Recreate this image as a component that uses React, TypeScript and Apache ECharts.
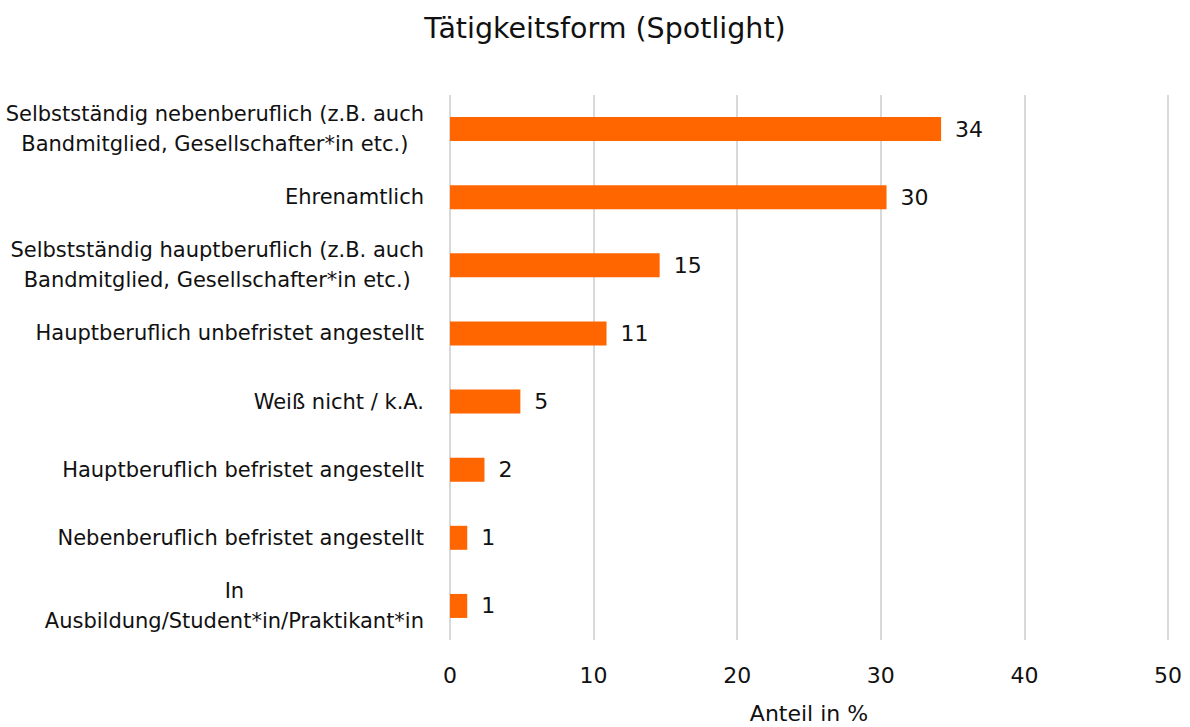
import React, { useEffect, useRef } from "react";
import * as echarts from "echarts";

const categories = [
  "Selbstständig nebenberuflich (z.B. auch\nBandmitglied, Gesellschafter*in etc.)",
  "Ehrenamtlich",
  "Selbstständig hauptberuflich (z.B. auch\nBandmitglied, Gesellschafter*in etc.)",
  "Hauptberuflich unbefristet angestellt",
  "Weiß nicht / k.A.",
  "Hauptberuflich befristet angestellt",
  "Nebenberuflich befristet angestellt",
  "In\nAusbildung/Student*in/Praktikant*in",
];
const values = [34.2, 30.4, 14.6, 10.9, 4.9, 2.4, 1.2, 1.2];
const titleText = "Tätigkeitsform (Spotlight)";
const axisName = "Anteil in %";

const FONT = "'DejaVu Sans', 'Noto Sans', sans-serif";

export default function App() {
  const ref = useRef<HTMLDivElement>(null);
  useEffect(() => {
    if (!ref.current) return;
    const chart = echarts.init(ref.current, null, { renderer: "svg" });
    chart.setOption({
      animation: false,
      backgroundColor: "#ffffff",
      textStyle: { fontFamily: FONT },
      title: {
        text: titleText,
        left: 600,
        textAlign: "center",
        top: 9,
        textStyle: { fontFamily: FONT, fontSize: 28.5, fontWeight: "normal", color: "#111" },
      },
      grid: {
        left: 450,
        right: 22,
        top: 95,
        bottom: 87,
        containLabel: false,
        outerBoundsMode: "none",
      },
      xAxis: {
        type: "value",
        min: 0,
        max: 50,
        interval: 10,
        name: axisName,
        nameLocation: "middle",
        nameGap: 62,
        nameTextStyle: { fontFamily: FONT, fontSize: 22, lineHeight: 22, color: "#111" },
        axisLine: { show: false },
        axisTick: { show: false },
        axisLabel: { fontFamily: FONT, fontSize: 22, color: "#111", margin: 24 },
        splitLine: { show: true, lineStyle: { color: "#d9d9d9", width: 2 } },
      },
      yAxis: {
        type: "category",
        data: categories,
        inverse: true,
        axisLine: { show: false },
        axisTick: { show: false },
        axisLabel: {
          margin: 26,
          color: "#111",
          fontFamily: FONT,
          fontSize: 21,
          lineHeight: 30,
          formatter: (v: string) =>
            v
              .split("\n")
              .map((l) => "{c|" + l + "}")
              .join("\n"),
          rich: {
            c: { align: "center", fontFamily: FONT, fontSize: 21, lineHeight: 30, color: "#111" },
          },
        },
      },
      series: [
        {
          type: "bar",
          data: values,
          barWidth: 24,
          itemStyle: { color: "#ff6600" },
          label: {
            show: true,
            position: "right",
            distance: 14,
            fontFamily: FONT,
            fontSize: 22,
            color: "#111",
            formatter: (p: any) => String(Math.round(p.value)),
          },
        },
      ],
    });
    return () => chart.dispose();
  }, []);
  return (
    <div
      ref={ref}
      style={{ position: "fixed", left: 0, top: 0, width: 1190, height: 727 }}
    />
  );
}
